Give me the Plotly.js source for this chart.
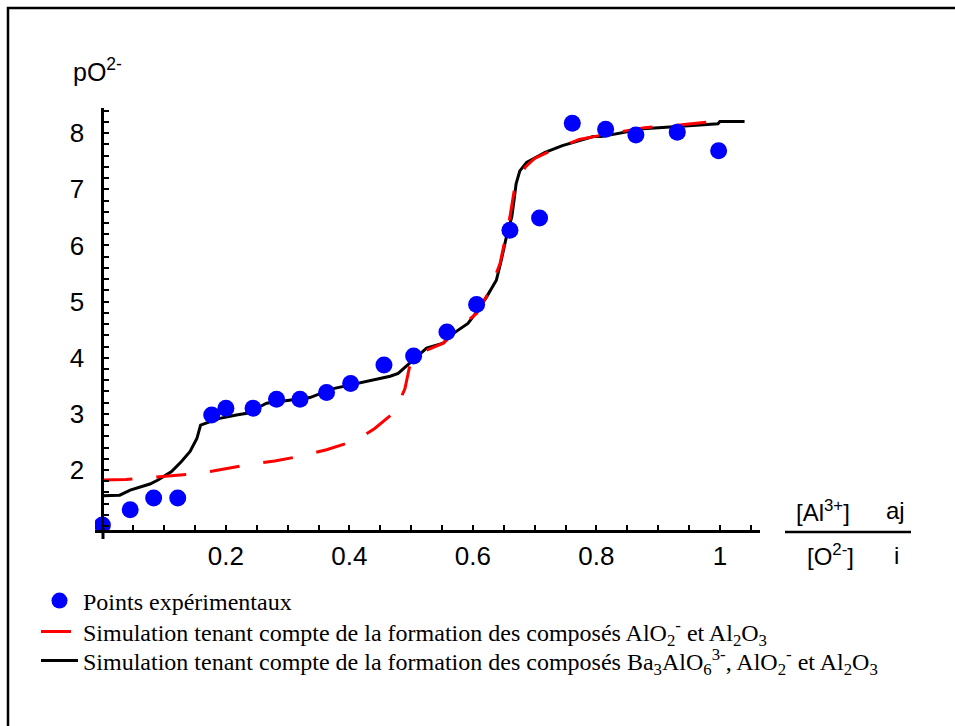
<!DOCTYPE html>
<html>
<head>
<meta charset="utf-8">
<script src="https://cdn.plot.ly/plotly-3.0.1.min.js"></script>
<style>html,body{margin:0;padding:0;background:#fff;}#chart{width:955px;height:726px;}</style>
</head>
<body>
<div id="chart"></div>
<script>
// Experimental points
const expX = [0.000, 0.045, 0.083, 0.122, 0.177, 0.200, 0.244, 0.282, 0.320, 0.363, 0.402, 0.456, 0.504, 0.558, 0.606, 0.660, 0.708, 0.761, 0.815, 0.864, 0.931, 0.998];
const expY = [1.02, 1.29, 1.50, 1.50, 2.98, 3.10, 3.10, 3.26, 3.26, 3.38, 3.54, 3.87, 4.03, 4.46, 4.95, 6.27, 6.49, 8.18, 8.07, 7.97, 8.02, 7.69];

// Simulation AlO2- and Al2O3 (red dashed)
const simAX = [0.000, 0.038, 0.083, 0.136, 0.179, 0.234, 0.279, 0.323, 0.363, 0.412, 0.441, 0.474, 0.490, 0.498, 0.520, 0.552, 0.579, 0.606, 0.628, 0.644, 0.660, 0.668, 0.685, 0.700, 0.719, 0.772, 0.825, 0.878, 0.938, 0.988];
const simAY = [1.82, 1.83, 1.87, 1.92, 1.98, 2.09, 2.16, 2.25, 2.36, 2.53, 2.74, 3.04, 3.45, 3.87, 4.11, 4.26, 4.55, 4.79, 5.21, 5.68, 6.51, 7.05, 7.40, 7.55, 7.65, 7.89, 8.00, 8.10, 8.15, 8.21];

// Simulation Ba3AlO6 3-, AlO2- and Al2O3 (black solid)
const simBX = [0.000, 0.028, 0.045, 0.061, 0.077, 0.090, 0.112, 0.128, 0.142, 0.153, 0.159, 0.169, 0.190, 0.217, 0.234, 0.266, 0.285, 0.310, 0.336, 0.374, 0.422, 0.444, 0.466, 0.479, 0.490, 0.525, 0.552, 0.568, 0.592, 0.605, 0.622, 0.638, 0.646, 0.650, 0.653, 0.657, 0.663, 0.666, 0.670, 0.676, 0.687, 0.709, 0.717, 0.745, 0.776, 0.795, 0.808, 0.876, 0.919, 0.968, 0.997, 1.000, 1.040];
const simBY = [1.54, 1.55, 1.64, 1.69, 1.75, 1.82, 1.97, 2.15, 2.33, 2.56, 2.80, 2.84, 2.92, 2.98, 3.01, 3.19, 3.22, 3.26, 3.29, 3.45, 3.56, 3.61, 3.67, 3.72, 3.83, 4.17, 4.26, 4.43, 4.61, 4.80, 5.08, 5.38, 5.74, 5.91, 6.09, 6.27, 6.51, 6.75, 7.10, 7.33, 7.48, 7.61, 7.66, 7.78, 7.88, 7.94, 7.94, 8.08, 8.11, 8.14, 8.17, 8.21, 8.21];

// Tick labels
const xTickVals = [0.2, 0.4, 0.6, 0.8, 1];
const xTickText = ['0.2', '0.4', '0.6', '0.8', '1'];
const yTickVals = [2, 3, 4, 5, 6, 7, 8];
const yTickText = ['2', '3', '4', '5', '6', '7', '8'];

const legendNames = [
  'Points expérimentaux',
  'Simulation tenant compte de la formation des composés AlO<sub>2</sub><sup>-</sup> et Al<sub>2</sub>O<sub>3</sub>',
  'Simulation tenant compte de la formation des composés Ba<sub>3</sub>AlO<sub>6</sub><sup>3-</sup>, AlO<sub>2</sub><sup>-</sup> et Al<sub>2</sub>O<sub>3</sub>'
];

const W = 955, H = 726;
const L = 95, R = 195, T = 108, B = 196;
const PW = W - L - R, PH = H - T - B;
const xRange = [-0.012, 1.065];
const yRange = [0.93, 8.45];
const px = v => (v - L) / PW;            // page px -> paper x
const py = v => (H - B - v) / PH;        // page px -> paper y

const traces = [
  {
    x: simBX, y: simBY, type: 'scatter', mode: 'lines',
    name: legendNames[2], legend: 'legend3',
    line: {color: '#000000', width: 3}
  },
  {
    x: simAX, y: simAY, type: 'scatter', mode: 'lines',
    name: legendNames[1], legend: 'legend2',
    line: {color: '#ff0000', width: 3, dash: '30px,24px'}
  },
  {
    x: expX, y: expY, type: 'scatter', mode: 'markers',
    name: legendNames[0], legend: 'legend',
    marker: {color: '#0000ff', size: 17, symbol: 'circle'}
  }
];

const tickFont = {family: 'Liberation Sans, Arial, sans-serif', size: 26, color: '#000'};
const labFont = {family: 'Liberation Sans, Arial, sans-serif', size: 24, color: '#000'};
const legFont = {family: 'Liberation Serif, Times New Roman, serif', size: 24, color: '#000'};
const legBase = (yc) => ({
  x: px(36), y: py(yc), xanchor: 'left', yanchor: 'middle',
  font: legFont, itemwidth: 37, bgcolor: 'rgba(0,0,0,0)', borderwidth: 0
});

const layout = {
  width: W, height: H,
  margin: {l: L, r: R, t: T, b: B, autoexpand: false},
  paper_bgcolor: '#fff', plot_bgcolor: 'rgba(0,0,0,0)',
  showlegend: true,
  legend: legBase(601),
  legend2: legBase(632),
  legend3: legBase(661),
  xaxis: {
    range: xRange, showgrid: false, zeroline: false,
    showline: true, linecolor: '#000', linewidth: 3,
    tickmode: 'array', tickvals: xTickVals, ticktext: xTickText,
    ticks: 'inside', ticklen: 5, tickwidth: 2, tickcolor: '#000',
    minor: {tickmode: 'linear', tick0: 0, dtick: 0.05, ticks: 'inside', ticklen: 5, tickwidth: 2, tickcolor: '#000', showgrid: false},
    tickfont: tickFont, ticklabelstandoff: 1
  },
  yaxis: {
    range: yRange, showgrid: false, zeroline: false,
    anchor: 'free', position: (0 - xRange[0]) / (xRange[1] - xRange[0]),
    showline: true, linecolor: '#000', linewidth: 3,
    tickmode: 'array', tickvals: yTickVals, ticktext: yTickText,
    ticks: 'inside', ticklen: 5, tickwidth: 2, tickcolor: '#000',
    minor: {tickmode: 'linear', tick0: 0, dtick: 0.2, ticks: 'inside', ticklen: 5, tickwidth: 2, tickcolor: '#000', showgrid: false},
    tickfont: tickFont, ticklabelstandoff: 12
  },
  annotations: [
    {xref: 'paper', yref: 'paper', x: px(71), y: py(70), xanchor: 'left', yanchor: 'middle',
     text: 'pO<sup>2-</sup>', showarrow: false, font: {family: labFont.family, size: 25, color: '#000'}},
    {xref: 'paper', yref: 'paper', x: px(823), y: py(511), xanchor: 'center', yanchor: 'middle',
     text: '[Al<sup>3+</sup>]', showarrow: false, font: labFont},
    {xref: 'paper', yref: 'paper', x: px(895), y: py(510), xanchor: 'center', yanchor: 'middle',
     text: 'aj', showarrow: false, font: labFont},
    {xref: 'paper', yref: 'paper', x: px(830), y: py(555), xanchor: 'center', yanchor: 'middle',
     text: '[O<sup>2-</sup>]', showarrow: false, font: labFont},
    {xref: 'paper', yref: 'paper', x: px(897), y: py(555), xanchor: 'center', yanchor: 'middle',
     text: 'i', showarrow: false, font: labFont}
  ],
  shapes: [
    {type: 'line', xref: 'paper', yref: 'paper', x0: px(785), x1: px(911), y0: py(532), y1: py(532),
     line: {color: '#000', width: 2.5}},
    {type: 'line', xref: 'paper', yref: 'paper', x0: px(103), x1: px(103), y0: py(528), y1: py(539),
     line: {color: '#000', width: 3}},
    {type: 'rect', xref: 'paper', yref: 'paper', x0: px(8), x1: px(970), y0: py(8), y1: py(760),
     line: {color: '#000', width: 2.5}, fillcolor: 'rgba(0,0,0,0)', layer: 'below'}
  ]
};

Plotly.newPlot('chart', traces, layout, {displayModeBar: false, staticPlot: true});
</script>
</body>
</html>
